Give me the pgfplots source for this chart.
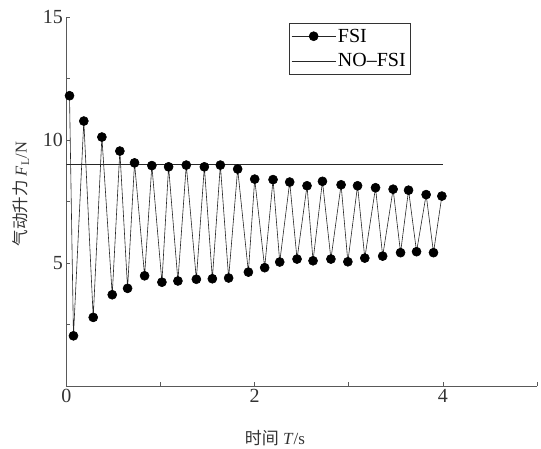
\documentclass[border=0pt]{standalone}
\usepackage{pgfplots}
\pgfplotsset{compat=1.18}
\usepackage{fontspec}
\setmainfont{Liberation Serif}
\newfontfamily\cjk{Noto Sans CJK SC}
\begin{document}
\begin{tikzpicture}
\begin{axis}[
  at={(0pt,0pt)}, anchor=south west,
  scale only axis, width=470.5pt, height=369pt,
  xmin=0, xmax=5, ymin=0, ymax=15,
  axis lines*=left,
  axis line style={black!65, line width=0.8pt},
  tick align=inside, major tick length=4pt,
  tick style={black!65, line width=0.7pt},
  xtick={0,1,2,3,4,5}, xticklabels={0,,2,,4,},
  ytick={0,2.5,5,7.5,10,12.5,15}, yticklabels={,,5,,10,,15},
  /pgf/number format/assume math mode=true,
  ticklabel style={font=\fontsize{20}{24}\selectfont, text=black!80},
  xlabel={{\cjk 时间} \textit{T}/s},
  ylabel={{\cjk 气动升力} \textit{F}\textsubscript{L}/N},
  label style={text=black!80},
  xlabel style={font=\fontsize{17}{20}\selectfont, at={(axis description cs:0.443,-0.14)}, anchor=center},
  ylabel style={font=\fontsize{16.5}{20}\selectfont, at={(axis description cs:-0.097,0.52)}, anchor=center, rotate=0},
  legend style={at={(axis cs:3.65,14.77)}, anchor=north east, draw=black!80,
    font=\fontsize{20}{23}\selectfont, inner xsep=2pt, inner ysep=4pt, row sep=6pt,
    cells={anchor=west}},
  legend image code/.code={\draw[mark repeat=2,mark phase=2,#1] plot coordinates {(0pt,0pt)(22pt,0pt)(44pt,0pt)};},
]
\addplot[black!85, line width=0.6pt, mark=*, mark size=4.5pt, mark options={fill=black, draw=black, solid}] coordinates {
(0.032,11.80) (0.074,2.04) (0.184,10.77) (0.284,2.79) (0.376,10.12) (0.486,3.71)
(0.567,9.55) (0.649,3.97) (0.723,9.07) (0.830,4.48) (0.907,8.96) (1.014,4.22)
(1.085,8.91) (1.184,4.27) (1.273,8.98) (1.380,4.34) (1.465,8.91) (1.550,4.36)
(1.635,8.98) (1.723,4.39) (1.819,8.82) (1.933,4.63) (2.000,8.41) (2.106,4.81)
(2.195,8.39) (2.266,5.04) (2.372,8.29) (2.450,5.16) (2.556,8.14) (2.620,5.09)
(2.720,8.32) (2.810,5.16) (2.918,8.18) (2.990,5.05) (3.093,8.14) (3.170,5.20)
(3.284,8.06) (3.360,5.28) (3.471,8.00) (3.550,5.42) (3.635,7.96) (3.720,5.46)
(3.822,7.78) (3.900,5.42) (3.989,7.72)
};
\addlegendentry{FSI}
\addplot[black!85, line width=0.6pt] coordinates {(0,9.0) (4.0,9.0)};
\addlegendentry{NO--FSI}
\end{axis}
\pgfresetboundingbox
\path (-66.5pt,-62pt) rectangle (474.5pt,386pt);
\end{tikzpicture}
\end{document}
